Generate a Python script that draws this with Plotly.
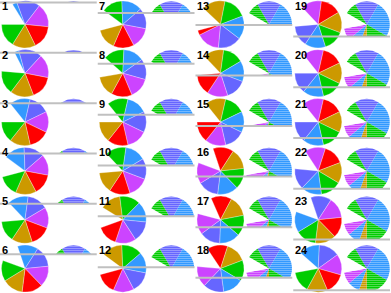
import plotly.graph_objects as go

W, H = 391, 293
N_COLS, N_ROWS = 4, 6
CELL_W, CELL_H = W / N_COLS, H / N_ROWS

# ---------------- data ----------------
cell_numbers = list(range(1, 25))

palette = {
    "white": "#FFFFFF", "green": "#00CC00", "blue": "#3399FF",
    "slate": "#6666FF", "purple": "#CC44FF", "red": "#FF0000", "gold": "#CC9900",
}
color_cycle = ["green", "blue", "slate", "purple", "red", "gold"]

# colour that follows the white slice (clockwise) in each pie
first_color = ["blue", "blue", "blue", "blue", "blue", "blue",
               "green", "green", "green", "green", "gold", "gold",
               "gold", "gold", "gold", "red", "red", "red",
               "purple", "purple", "purple", "purple", "slate", "blue"]
# angle (deg, clockwise from 12 o'clock) where the white slice starts
rotation_deg = [270, 275, 270, 255, 265, 290,
                255, 260, 270, 265, 250, 255,
                255, 265, 270, 290, 285, 275,
                265, 270, 270, 275, 290, 260]
# colour drawn very thin in some pies
thin_color = ["blue", "blue", None, None, None, None,
              None, None, None, None, None, None,
              "red", None, None, None, None, None,
              None, None, None, None, None, None]
slice_value = 1.0
thin_value = 0.2

# second (striped) pie in each cell
ghost_labels = ["r1", "r2", "r3", "r4", "r5", "r6", "r7", "r8"]
ghost_colors = ["slate", "blue", "green", "gold", "blue", "purple", "white", "green"]
ghost_values = [60, 90, 60, 20, 30, 30, 40, 30]
ghost_rotation = 330
# visible height (px) of the striped pie in each cell
reveal_px = [2.5, 4, 5.5, 7, 8.5, 10, 13, 15, 17, 19, 21, 23,
             25, 26.7, 28.4, 30.1, 31.8, 33.5, 36.5, 38.4, 40.3, 42.2, 44.1, 46]

# ---------------- figure ----------------
fig = go.Figure()
shapes, annotations = [], []

def px_x(v):
    return v / W

def px_y(v):
    return 1 - v / H

for i, n in enumerate(cell_numbers):
    col, row = i // N_ROWS, i % N_ROWS
    x0, top = col * CELL_W, row * CELL_H
    cy = top + 24.4

    # main pie
    k = color_cycle.index(first_color[i])
    order = ["white"] + [color_cycle[(k + j) % 6] for j in range(6)]
    vals = [thin_value if c == thin_color[i] else slice_value for c in order]
    cx, r = x0 + 25, 23.5
    fig.add_trace(go.Pie(
        labels=order, values=vals, sort=False, direction="clockwise",
        rotation=rotation_deg[i], textinfo="none", hoverinfo="label",
        marker=dict(colors=[palette[c] for c in order],
                    line=dict(color="rgba(255,255,255,0.6)", width=0.5)),
        domain=dict(x=[px_x(cx - r), px_x(cx + r)], y=[px_y(cy + r), px_y(cy - r)]),
        showlegend=False,
    ))

    # striped pie on the right
    gx, gr = x0 + 73.5, 23
    fig.add_trace(go.Pie(
        labels=ghost_labels, values=ghost_values, sort=False, direction="clockwise",
        rotation=ghost_rotation, textinfo="none", hoverinfo="skip",
        marker=dict(colors=[palette[c] for c in ghost_colors]),
        domain=dict(x=[px_x(gx - gr), px_x(gx + gr)], y=[px_y(cy + gr), px_y(cy - gr)]),
        showlegend=False,
    ))

    h = reveal_px[i]
    xa, xb = x0 + 49.5, x0 + CELL_W
    # horizontal stripes
    yy = int(top) + 0.5
    segs = []
    while yy < top + h:
        segs.append(f"M{px_x(xa):.5f},{px_y(yy):.5f} H{px_x(xb):.5f}")
        yy += 2
    if segs:
        shapes.append(dict(type="path", xref="paper", yref="paper", path=" ".join(segs),
                           line=dict(color="rgba(255,255,255,0.32)", width=1)))
    # cover the hidden part
    shapes.append(dict(type="rect", xref="paper", yref="paper",
                       x0=px_x(xa), x1=px_x(xb), y0=px_y(top + CELL_H), y1=px_y(top + h),
                       fillcolor="white", line=dict(width=0), layer="above"))
    # gray separator line
    shapes.append(dict(type="line", xref="paper", yref="paper",
                       x0=px_x(x0), x1=px_x(x0 + CELL_W - 1), y0=px_y(top + h), y1=px_y(top + h),
                       line=dict(color="#C0C0C0", width=2)))

    annotations.append(dict(
        text=f"<b>{n}</b>", x=px_x(x0 + 0.5), y=px_y(top - 1), xref="paper", yref="paper",
        xanchor="left", yanchor="top", showarrow=False, borderpad=0,
        font=dict(family="Arial", size=11, color="black"),
    ))

fig.update_layout(
    width=W, height=H, margin=dict(l=0, r=0, t=0, b=0),
    paper_bgcolor="white", plot_bgcolor="white",
    shapes=shapes, annotations=annotations, showlegend=False,
)

fig.write_html("out.html")
